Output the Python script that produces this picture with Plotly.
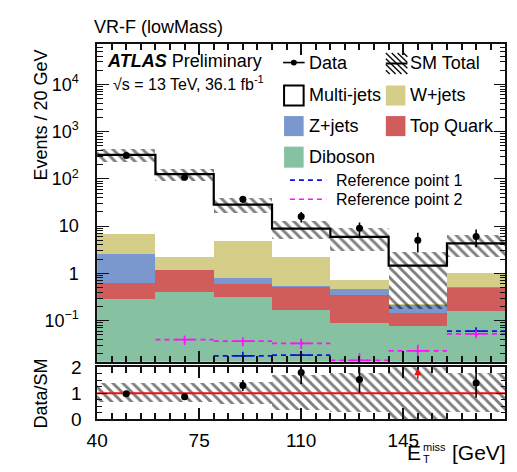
import numpy as np
import plotly.graph_objects as go

W, H = 517, 472
FONT = "Liberation Sans, Arial, Helvetica, sans-serif"

# ---- binning: E_T^miss [GeV], 20 GeV bins ----
bin_edges = [40, 60, 80, 100, 120, 140, 160, 180]
x_tick_labels = ["40", "75", "110", "145", "180"]

# ---- background expectations per bin (events / 20 GeV) ----
diboson = [0.275, 0.39, 0.306, 0.164, 0.088, 0.076, 0.158]
top_quark = [0.35, 0.78, 0.264, 0.362, 0.248, 0.065, 0.337]
z_jets = [1.9, 0.01, 0.21, 0.015, 0.114, 0.077, 0.01]
w_jets = [4.07, 0.99, 4.07, 1.63, 0.25, 0.003, 0.49]
multi_jets = [316.0, 123.8, 23.6, 6.7, 5.2, 1.23, 3.3]

# total SM uncertainty (absolute, main panel) and relative band in the ratio panel
sm_unc = [95.0, 37.0, 9.4, 3.6, 2.95, 1.28, 2.15]
ratio_band = [0.37, 0.37, 0.42, 0.68, 0.75, 1.05, 0.75]

# ---- observed data ----
data = [315, 108, 37, 16, 9, 5, 6]

# ---- signal reference points (None: below the displayed range) ----
ref1 = [None, None, 0.0178, 0.0185, None, None, 0.060]
ref1_err = [None, None, 0.004, 0.004, None, None, 0.012]
ref2 = [None, 0.0395, 0.0365, 0.033, 0.0143, 0.0229, 0.052]
ref2_err = [None, 0.009, 0.008, 0.008, 0.006, 0.008, 0.010]

COL = {
    "Diboson": "#86c2a1",
    "Top Quark": "#d15c5c",
    "Z+jets": "#7b98ce",
    "W+jets": "#d4ce89",
    "Multi-jets": "#ffffff",
    "ref1": "#1010e0",
    "ref2": "#ff10ff",
}

edges = np.array(bin_edges, dtype=float)
centers = 0.5 * (edges[:-1] + edges[1:])
widths = edges[1:] - edges[:-1]

components = [
    ("Diboson", diboson),
    ("Top Quark", top_quark),
    ("Z+jets", z_jets),
    ("W+jets", w_jets),
    ("Multi-jets", multi_jets),
]
total = np.sum([np.array(v) for _, v in components], axis=0)
unc = np.array(sm_unc)
data_arr = np.array(data, dtype=float)

fig = go.Figure()

# stacked backgrounds
base = np.full(len(centers), 1e-4)
for name, vals in components:
    vals = np.array(vals)
    fig.add_trace(go.Bar(
        x=centers, y=vals, base=base, width=widths,
        marker=dict(color=COL[name], line=dict(width=0)),
        xaxis="x", yaxis="y", showlegend=False, hoverinfo="skip",
    ))
    base = base + vals

HATCH = dict(shape="\\", fgcolor="#000000", bgcolor="rgba(0,0,0,0)",
             size=7, solidity=0.42, fillmode="overlay")

# SM total uncertainty band
lo = np.maximum(total - unc, 1e-3)
fig.add_trace(go.Bar(
    x=centers, y=(total + unc) - lo, base=lo, width=widths,
    marker=dict(color="rgba(0,0,0,0)", line=dict(width=0), pattern=HATCH),
    xaxis="x", yaxis="y", showlegend=False, hoverinfo="skip",
))

# SM total step line
fig.add_trace(go.Scatter(
    x=edges, y=list(total) + [total[-1]], mode="lines", line_shape="hv",
    line=dict(color="black", width=2.2), xaxis="x", yaxis="y",
    showlegend=False, hoverinfo="skip",
))


# reference points: dashed per-bin segments plus vertical uncertainty
def add_ref(vals, errs, color):
    xs, ys, cx, cy, ce = [], [], [], [], []
    for i, v in enumerate(vals):
        if v is None:
            continue
        xs += [edges[i], edges[i + 1], None]
        ys += [v, v, None]
        cx.append(centers[i]); cy.append(v); ce.append(errs[i])
    fig.add_trace(go.Scatter(
        x=xs, y=ys, mode="lines", line=dict(color=color, width=1.7, dash="5px,4px"),
        xaxis="x", yaxis="y", showlegend=False, hoverinfo="skip", connectgaps=False,
    ))
    fig.add_trace(go.Scatter(
        x=cx, y=cy, mode="markers", marker=dict(size=1, color=color),
        error_y=dict(type="data", array=ce, thickness=1.7, width=0, color=color),
        error_x=dict(type="constant", value=3, thickness=1.7, width=0, color=color),
        xaxis="x", yaxis="y", showlegend=False, hoverinfo="skip",
    ))


add_ref(ref1, ref1_err, COL["ref1"])
add_ref(ref2, ref2_err, COL["ref2"])

# data
fig.add_trace(go.Scatter(
    x=centers, y=data_arr, mode="markers",
    marker=dict(color="black", size=7),
    error_y=dict(type="data", array=np.sqrt(data_arr), thickness=1.6, width=0, color="black"),
    xaxis="x", yaxis="y", showlegend=False, hoverinfo="skip",
))

# ---- ratio panel ----
rb = np.array(ratio_band)
r_lo = np.maximum(1 - rb, 0.0)
r_hi = np.minimum(1 + rb, 2.0)
fig.add_trace(go.Bar(
    x=centers, y=r_hi - r_lo, base=r_lo, width=widths,
    marker=dict(color="rgba(0,0,0,0)", line=dict(width=0), pattern=HATCH),
    xaxis="x2", yaxis="y2", showlegend=False, hoverinfo="skip",
))
fig.add_trace(go.Scatter(
    x=[edges[0], edges[-1]], y=[1, 1], mode="lines",
    line=dict(color="#ee1111", width=2), xaxis="x2", yaxis="y2",
    showlegend=False, hoverinfo="skip",
))
ratio = data_arr / total
ratio_err = np.sqrt(data_arr) / total
in_range = ratio <= 2
fig.add_trace(go.Scatter(
    x=centers[in_range], y=ratio[in_range], mode="markers",
    marker=dict(color="black", size=7),
    error_y=dict(type="data", array=ratio_err[in_range], thickness=1.6, width=0, color="black"),
    xaxis="x2", yaxis="y2", showlegend=False, hoverinfo="skip", cliponaxis=True,
))

annotations = []
shapes = []

# off-scale ratio points shown as arrows
for xc in centers[~in_range]:
    annotations.append(dict(
        x=xc, y=1.97, ax=xc, ay=1.5, xref="x2", yref="y2", axref="x2", ayref="y2",
        showarrow=True, arrowhead=2, arrowsize=0.9, arrowwidth=1.6, arrowcolor="#ee1111", text="",
    ))

AX = "#111111"
x_major = [float(v) for v in x_tick_labels]
x_minor = [float(v) for v in range(40, 181, 5) if v not in x_major]


def px(x):
    return x / W


def py(y):
    return 1 - y / H


def text(x, y, s, size=18, anchor="left", angle=0, color="black"):
    annotations.append(dict(
        x=px(x), y=py(y), xref="paper", yref="paper", text=s, showarrow=False,
        xanchor=anchor, yanchor="middle", textangle=angle, borderpad=0,
        font=dict(family=FONT, size=size, color=color),
    ))


def rect(x0, y0, x1, y1, fill, line_color=None, lw=0):
    shapes.append(dict(
        type="rect", xref="paper", yref="paper",
        x0=px(x0), x1=px(x1), y0=py(y1), y1=py(y0),
        fillcolor=fill, line=dict(color=line_color or fill, width=lw),
    ))


def seg(x0, y0, x1, y1, color, lw=1.5, dash="solid"):
    shapes.append(dict(
        type="line", xref="paper", yref="paper",
        x0=px(x0), x1=px(x1), y0=py(y0), y1=py(y1),
        line=dict(color=color, width=lw, dash=dash),
    ))


# titles and labels
text(84, 18, "VR-F (lowMass)", 18)
text(97, 53, "<b><i>ATLAS</i></b> Preliminary", 18)
text(103, 76, "√s = 13 TeV, 36.1 fb<sup>-1</sup>", 16)
text(31, 110, "Events / 20 GeV", 18, anchor="center", angle=-90)
text(31, 401, "Data/SM", 18, anchor="center", angle=-90)
text(404, 463, "E", 21)
text(420, 457, "miss", 11)
text(420, 470, "T", 11)
text(450, 463, "[GeV]", 21)

# legend
seg(278, 55, 300, 55, "black", 1.6)
shapes.append(dict(type="circle", xref="paper", yref="paper",
                   x0=px(286), x1=px(292), y0=py(58), y1=py(52),
                   fillcolor="black", line=dict(color="black", width=0)))
text(303, 55, "Data", 18)

# SM total symbol: hatched box with a line through it
bx0, by0, bx1, by1 = 383, 45, 405, 67
for k in range(-3, 4):
    x0 = bx0 + k * 6
    xa, ya = x0, by0
    xb, yb = x0 + (by1 - by0), by1
    if xa < bx0:
        ya += bx0 - xa; xa = bx0
    if xb > bx1:
        yb -= xb - bx1; xb = bx1
    if xa < xb:
        seg(xa, ya, xb, yb, "#111111", 1.5)
seg(bx0, 56, bx1, 56, "black", 2)
text(407, 55, "SM Total", 18)

rect(279, 79, 299, 100, "white", "black", 2)
text(303, 89, "Multi-jets", 18)
rect(383, 79, 403, 100, COL["W+jets"])
text(407, 89, "W+jets", 18)
rect(279, 111, 299, 132, COL["Z+jets"])
text(303, 121, "Z+jets", 18)
rect(383, 111, 403, 132, COL["Top Quark"])
text(407, 121, "Top Quark", 18)
rect(279, 143, 299, 165, COL["Diboson"])
text(303, 154, "Diboson", 18)
seg(285, 178, 322, 178, COL["ref1"], 1.6, "5px,4px")
text(331, 178, "Reference point 1", 16)
seg(285, 198, 322, 198, COL["ref2"], 1.6, "5px,4px")
text(331, 198, "Reference point 2", 16)

# ---- axes ----
xdom = [88 / W, 505 / W]
ydom_main = [1 - 368 / H, 1 - 36 / H]
ydom_ratio = [1 - 428 / H, 1 - 374 / H]

common_x = dict(
    range=[40, 180], domain=xdom, tickmode="array", tickvals=x_major, ticktext=x_tick_labels,
    ticks="inside", ticklen=11, tickwidth=1.5, tickcolor=AX,
    minor=dict(ticks="inside", tickmode="array", tickvals=x_minor, ticklen=6, tickwidth=1.5, tickcolor=AX),
    showline=True, linecolor=AX, linewidth=1.5, mirror="allticks",
    showgrid=False, zeroline=False, layer="above traces",
)

decades = [0.1, 1, 10, 100, 1000, 10000]
decade_text = ["10<sup>−1</sup>", "1", "10", "10<sup>2</sup>", "10<sup>3</sup>", "10<sup>4</sup>"]
minor_log = [k * 10.0 ** n for n in range(-2, 5) for k in range(2, 10)]

fig.update_layout(
    width=W, height=H, margin=dict(l=0, r=0, t=0, b=0),
    paper_bgcolor="white", plot_bgcolor="white", barmode="overlay", bargap=0,
    showlegend=False, font=dict(family=FONT, size=18, color="black"),
    xaxis=dict(common_x, anchor="y", showticklabels=False),
    yaxis=dict(
        type="log", range=[-1.87, 4.85], domain=ydom_main, anchor="x",
        tickmode="array", tickvals=decades, ticktext=decade_text,
        ticks="inside", ticklen=12, tickwidth=1, tickcolor=AX,
        minor=dict(ticks="inside", tickmode="array", tickvals=minor_log, ticklen=6, tickwidth=1, tickcolor=AX),
        showline=True, linecolor=AX, linewidth=1.5, mirror="allticks",
        showgrid=False, zeroline=False, tickfont=dict(size=18), ticklabelstandoff=13,
        layer="above traces",
    ),
    xaxis2=dict(common_x, anchor="y2", showticklabels=True, tickfont=dict(size=19),
                ticklabelstandoff=3),
    yaxis2=dict(
        range=[0, 2], domain=ydom_ratio, anchor="x2",
        tickmode="array", tickvals=[0, 1, 2], ticktext=["0", "1", "2"],
        ticks="inside", ticklen=10, tickwidth=1, tickcolor=AX,
        minor=dict(ticks="inside", tickmode="array", tickvals=[0.25, 0.5, 0.75, 1.25, 1.5, 1.75],
                   ticklen=5, tickwidth=1, tickcolor=AX),
        showline=True, linecolor=AX, linewidth=1.5, mirror="allticks",
        showgrid=False, zeroline=False, tickfont=dict(size=19), ticklabelstandoff=10,
        layer="above traces",
    ),
    annotations=annotations, shapes=shapes,
)

fig.write_html("out.html")
